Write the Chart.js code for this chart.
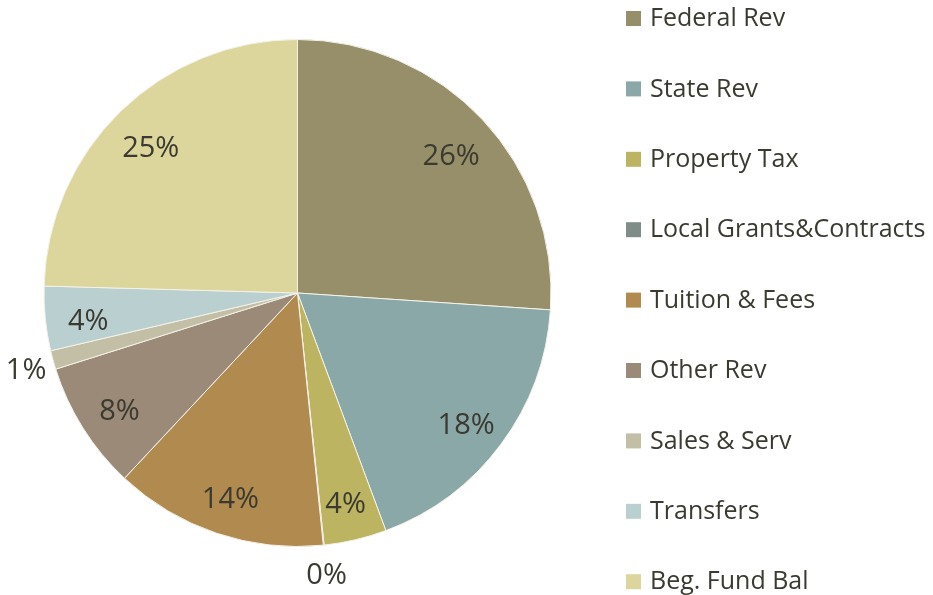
<!DOCTYPE html>
<html>
<head>
<meta charset="utf-8">
<script src="https://cdn.jsdelivr.net/npm/chart.js"></script>
<style>
  html, body { margin: 0; padding: 0; background: #fff; }
  #wrap { width: 933px; height: 595px; position: relative; }
</style>
</head>
<body>
<div id="wrap"><canvas id="revenueChart" width="933" height="595"></canvas></div>
<script>
// Revenue sources (percent of total)
const categories = ['Federal Rev', 'State Rev', 'Property Tax', 'Local Grants&Contracts',
    'Tuition & Fees', 'Other Rev', 'Sales & Serv', 'Transfers', 'Beg. Fund Bal'];
const shares = [26.1, 18.3, 4.0, 0.05, 13.6, 8.2, 1.2, 4.1, 24.6];
const pctLabels = ['26%', '18%', '4%', '0%', '14%', '8%', '1%', '4%', '25%'];
const sliceColors = ['#968f6a', '#8aa8a8', '#bdb462', '#7f8c87', '#b08a4f',
    '#9b8a78', '#c2bfa6', '#b9cfd0', '#dcd59c'];

const FONT = "'Open Sans', sans-serif";
const TEXT = '#3b3a30';

// Percent labels: inside for big slices, just outside the rim for tiny ones
const sliceLabels = {
    id: 'sliceLabels',
    afterDatasetsDraw(chart) {
        const ctx = chart.ctx;
        const arcs = chart.getDatasetMeta(0).data;
        ctx.save();
        ctx.font = '29px ' + FONT;
        ctx.fillStyle = TEXT;
        ctx.textAlign = 'center';
        ctx.textBaseline = 'middle';
        arcs.forEach((arc, i) => {
            const p = arc.getProps(['x', 'y', 'startAngle', 'endAngle', 'outerRadius'], true);
            const mid = (p.startAngle + p.endAngle) / 2;
            const small = shares[i] < 2;
            const r = p.outerRadius * (small ? 1.11 : 0.83);
            const dy = small ? 3 : 7;
            ctx.fillText(pctLabels[i], p.x + Math.cos(mid) * r, p.y + Math.sin(mid) * r + dy);
        });
        ctx.restore();
    }
};

// Legend on the right, evenly spaced rows
const sideLegend = {
    id: 'sideLegend',
    afterDraw(chart) {
        const ctx = chart.ctx;
        ctx.save();
        ctx.font = '25px ' + FONT;
        ctx.textBaseline = 'middle';
        categories.forEach((name, i) => {
            const y = 18 + i * 70.4;
            ctx.fillStyle = sliceColors[i];
            ctx.fillRect(626, y - 7, 15, 15);
            ctx.fillStyle = TEXT;
            ctx.fillText(name, 650, y + 1);
        });
        ctx.restore();
    }
};

new Chart(document.getElementById('revenueChart'), {
    type: 'pie',
    data: {
        labels: categories,
        datasets: [{
            data: shares,
            backgroundColor: sliceColors,
            borderColor: '#f4f2e8',
            borderWidth: 1
        }]
    },
    options: {
        responsive: false,
        animation: false,
        layout: { padding: { top: 39, bottom: 48, left: 42, right: 380 } },
        plugins: {
            legend: { display: false },
            tooltip: { enabled: false }
        }
    },
    plugins: [sliceLabels, sideLegend]
});
</script>
</body>
</html>
